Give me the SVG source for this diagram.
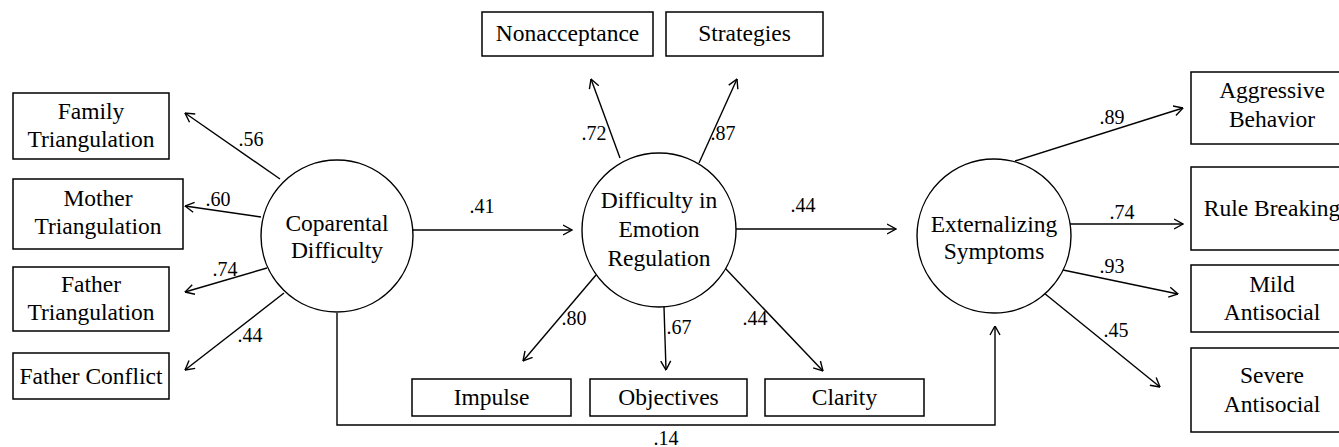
<svg xmlns="http://www.w3.org/2000/svg" width="1339" height="447" viewBox="0 0 1339 447">
<style>
.box{fill:#fff;stroke:#000;stroke-width:1.5}
.lat{fill:#fff;stroke:#000;stroke-width:1.4}
.t{font-family:'Liberation Serif','DejaVu Serif',serif;font-size:23.5px;fill:#000;text-anchor:middle}
.lbl{font-family:'Liberation Serif','DejaVu Serif',serif;font-size:20px;fill:#000;text-anchor:middle}
.c{fill:none;stroke:#000;stroke-width:1.4;marker-end:url(#ah)}
</style>
<defs>
<marker id="ah" viewBox="0 0 10 12" refX="9.5" refY="6" markerWidth="10" markerHeight="12" markerUnits="userSpaceOnUse" orient="auto">
<path d="M0.5,1 L9.5,6 L0.5,11" fill="none" stroke="#000" stroke-width="1.4"/>
</marker>
</defs>
<rect width="1339" height="447" fill="#fff"/>

<g id="connectors">
<line class="c" x1="280" y1="179" x2="185" y2="113"/>
<line class="c" x1="261" y1="217" x2="185" y2="206"/>
<line class="c" x1="267" y1="268" x2="185" y2="292"/>
<line class="c" x1="284" y1="293" x2="185" y2="370"/>
<line class="c" x1="413" y1="230" x2="572" y2="230"/>
<line class="c" x1="620" y1="158" x2="591" y2="79"/>
<line class="c" x1="699" y1="163" x2="737" y2="79"/>
<line class="c" x1="735" y1="229" x2="896" y2="229"/>
<line class="c" x1="596" y1="275" x2="523" y2="361"/>
<line class="c" x1="664" y1="307" x2="666" y2="370"/>
<line class="c" x1="725" y1="268" x2="823" y2="371"/>
<line class="c" x1="1015" y1="161" x2="1183" y2="108"/>
<line class="c" x1="1070" y1="224" x2="1183" y2="224"/>
<line class="c" x1="1063" y1="270" x2="1178" y2="294"/>
<line class="c" x1="1044" y1="293" x2="1160" y2="387"/>
<polyline class="c" points="337,313 337,425 995,425 995,326"/>
<text class="lbl" x="251" y="146">.56</text>
<text class="lbl" x="218" y="206">.60</text>
<text class="lbl" x="225" y="276">.74</text>
<text class="lbl" x="250" y="342">.44</text>
<text class="lbl" x="482" y="213">.41</text>
<text class="lbl" x="594" y="140">.72</text>
<text class="lbl" x="723" y="140">.87</text>
<text class="lbl" x="803" y="212">.44</text>
<text class="lbl" x="574" y="325">.80</text>
<text class="lbl" x="679" y="334">.67</text>
<text class="lbl" x="755" y="325">.44</text>
<text class="lbl" x="1112" y="124">.89</text>
<text class="lbl" x="1122" y="219">.74</text>
<text class="lbl" x="1112" y="273">.93</text>
<text class="lbl" x="1116" y="337">.45</text>
<text class="lbl" x="666" y="445">.14</text>
</g>

<g id="coparental">
<circle class="lat" cx="337" cy="236" r="76"/>
<text class="t" x="337" y="231">Coparental</text>
<text class="t" x="337" y="258">Difficulty</text>
</g>
<g id="der">
<circle class="lat" cx="659" cy="230" r="77"/>
<text class="t" x="659" y="208">Difficulty in</text>
<text class="t" x="659" y="237">Emotion</text>
<text class="t" x="659" y="266">Regulation</text>
</g>
<g id="externalizing">
<circle class="lat" cx="994" cy="236" r="77"/>
<text class="t" x="994" y="232">Externalizing</text>
<text class="t" x="994" y="259">Symptoms</text>
</g>

<g id="family-triangulation">
<rect class="box" x="13" y="93" width="156" height="66"/>
<text class="t" x="91" y="119">Family</text>
<text class="t" x="91" y="147">Triangulation</text>
</g>
<g id="mother-triangulation">
<rect class="box" x="13" y="179" width="170" height="70"/>
<text class="t" x="98" y="206">Mother</text>
<text class="t" x="98" y="234">Triangulation</text>
</g>
<g id="father-triangulation">
<rect class="box" x="13" y="267" width="156" height="64"/>
<text class="t" x="91" y="292">Father</text>
<text class="t" x="91" y="320">Triangulation</text>
</g>
<g id="father-conflict">
<rect class="box" x="13" y="353" width="156" height="46"/>
<text class="t" x="91" y="384">Father Conflict</text>
</g>

<g id="nonacceptance">
<rect class="box" x="482" y="12" width="171" height="44"/>
<text class="t" x="567.5" y="41">Nonacceptance</text>
</g>
<g id="strategies">
<rect class="box" x="666" y="12" width="157" height="44"/>
<text class="t" x="744.5" y="41">Strategies</text>
</g>

<g id="impulse">
<rect class="box" x="412" y="379" width="159" height="37"/>
<text class="t" x="491.5" y="405">Impulse</text>
</g>
<g id="objectives">
<rect class="box" x="590" y="379" width="157" height="37"/>
<text class="t" x="668.5" y="405">Objectives</text>
</g>
<g id="clarity">
<rect class="box" x="765" y="379" width="159" height="37"/>
<text class="t" x="844.5" y="405">Clarity</text>
</g>

<g id="aggressive">
<rect class="box" x="1191" y="72" width="162" height="72"/>
<text class="t" x="1272" y="98">Aggressive</text>
<text class="t" x="1272" y="127">Behavior</text>
</g>
<g id="rule-breaking">
<rect class="box" x="1191" y="167" width="162" height="83"/>
<text class="t" x="1272" y="216">Rule Breaking</text>
</g>
<g id="mild-antisocial">
<rect class="box" x="1191" y="265" width="162" height="67"/>
<text class="t" x="1272" y="292">Mild</text>
<text class="t" x="1272" y="320">Antisocial</text>
</g>
<g id="severe-antisocial">
<rect class="box" x="1191" y="348" width="162" height="84"/>
<text class="t" x="1272" y="383">Severe</text>
<text class="t" x="1272" y="412">Antisocial</text>
</g>
</svg>
